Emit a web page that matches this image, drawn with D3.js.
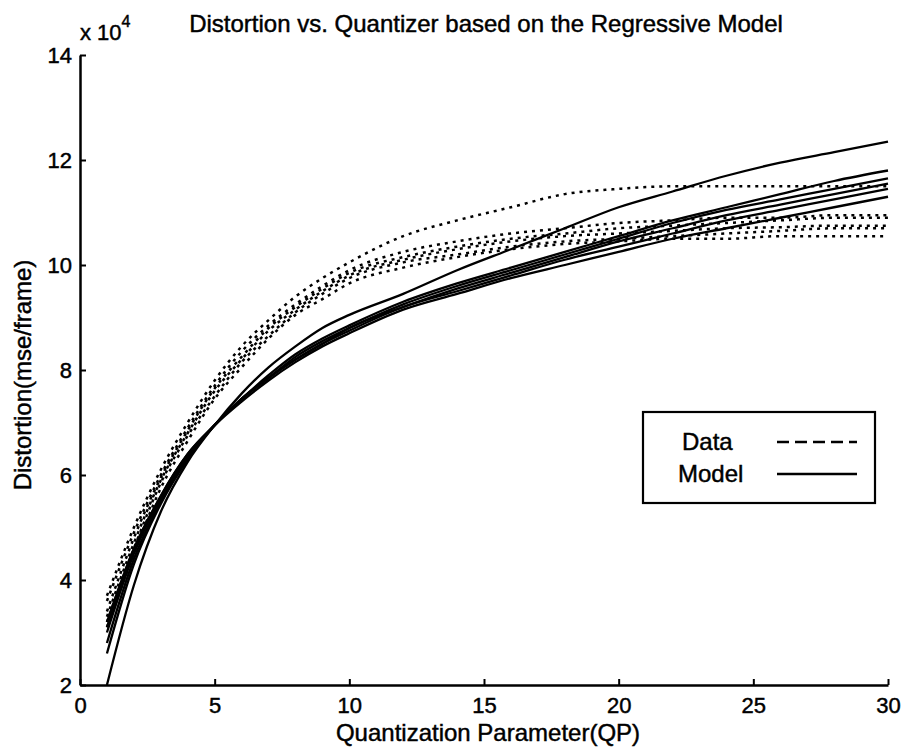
<!DOCTYPE html>
<html>
<head>
<meta charset="utf-8">
<script src="https://cdn.jsdelivr.net/npm/d3@7"></script>
<style>
  body { margin: 0; background: #fff; }
  text { font-family: "Liberation Sans", Arial, sans-serif; fill: #000; stroke: #000; stroke-width: 0.45px; }
</style>
</head>
<body>
<svg id="chart" width="901" height="749"></svg>
<script>
// QP sample points shared by every series
var qp = [1, 2, 3, 4, 5, 6, 7, 8, 9, 10, 12, 14, 16, 18, 20, 22, 24, 26, 28, 30];

// measured distortion (x 10^4), dotted
var data1 = [3.7, 5.0, 6.1, 7.0, 7.8, 8.45, 8.95, 9.4, 9.75, 10.05, 10.55, 10.85, 11.1, 11.35, 11.45, 11.5, 11.5, 11.5, 11.5, 11.5];
var data2 = [3.6, 4.9, 6.0, 6.9, 7.7, 8.35, 8.85, 9.25, 9.6, 9.9, 10.25, 10.45, 10.6, 10.7, 10.8, 10.85, 10.9, 10.9, 10.95, 10.95];
var data3 = [3.4, 4.8, 5.95, 6.85, 7.65, 8.25, 8.8, 9.2, 9.55, 9.85, 10.15, 10.35, 10.5, 10.6, 10.7, 10.75, 10.8, 10.85, 10.9, 10.9];
var data4 = [3.3, 4.7, 5.9, 6.8, 7.6, 8.2, 8.75, 9.15, 9.5, 9.8, 10.1, 10.3, 10.45, 10.55, 10.6, 10.65, 10.7, 10.72, 10.75, 10.75];
var data5 = [3.2, 4.6, 5.85, 6.75, 7.5, 8.15, 8.65, 9.1, 9.45, 9.75, 10.05, 10.2, 10.35, 10.45, 10.5, 10.55, 10.6, 10.65, 10.7, 10.7];
var data6 = [3.1, 4.5, 5.75, 6.65, 7.45, 8.05, 8.6, 9.05, 9.35, 9.65, 9.95, 10.15, 10.3, 10.4, 10.45, 10.5, 10.5, 10.55, 10.55, 10.55];

// regressive model (x 10^4), solid
var model1 = [2.0, 3.9, 5.3, 6.25, 6.95, 7.55, 8.05, 8.45, 8.8, 9.05, 9.45, 9.9, 10.3, 10.7, 11.1, 11.4, 11.7, 11.95, 12.15, 12.35];
var model2 = [2.6, 4.3, 5.45, 6.3, 6.95, 7.45, 7.9, 8.3, 8.6, 8.85, 9.3, 9.65, 9.95, 10.25, 10.55, 10.85, 11.1, 11.35, 11.6, 11.8];
var model3 = [2.8, 4.4, 5.5, 6.35, 6.95, 7.45, 7.85, 8.25, 8.55, 8.8, 9.25, 9.6, 9.9, 10.2, 10.5, 10.8, 11.05, 11.25, 11.45, 11.65];
var model4 = [3.0, 4.5, 5.55, 6.35, 6.95, 7.45, 7.85, 8.2, 8.5, 8.8, 9.2, 9.55, 9.85, 10.15, 10.45, 10.7, 10.95, 11.15, 11.35, 11.55];
var model5 = [3.1, 4.55, 5.6, 6.4, 6.95, 7.45, 7.85, 8.2, 8.5, 8.75, 9.2, 9.5, 9.8, 10.1, 10.35, 10.6, 10.85, 11.05, 11.25, 11.45];
var model6 = [3.2, 4.6, 5.6, 6.4, 6.95, 7.4, 7.8, 8.15, 8.45, 8.7, 9.15, 9.45, 9.75, 10.0, 10.25, 10.5, 10.7, 10.9, 11.1, 11.3];

var xTicks = [0, 5, 10, 15, 20, 25, 30];
var yTicks = [2, 4, 6, 8, 10, 12, 14];

var dataSeries = [data1, data2, data3, data4, data5, data6];
var modelSeries = [model1, model2, model3, model4, model5, model6];

var svg = d3.select("#chart");

var margin = {left: 80, top: 55, right: 13, bottom: 64};
var W = 901, H = 749;

var x = d3.scaleLinear().domain([0, 30]).range([margin.left, W - margin.right]);
var y = d3.scaleLinear().domain([2, 14]).range([H - margin.bottom, margin.top]);

var line = d3.line()
    .x((d, i) => x(qp[i]))
    .y(d => y(d))
    .curve(d3.curveMonotoneX);

var plot = svg.append("g");

plot.selectAll("path.model")
    .data(modelSeries)
    .enter().append("path")
      .attr("class", "model")
      .attr("d", line)
      .attr("fill", "none")
      .attr("stroke", "#000")
      .attr("stroke-width", 2.3);

plot.selectAll("path.data")
    .data(dataSeries)
    .enter().append("path")
      .attr("class", "data")
      .attr("d", line)
      .attr("fill", "none")
      .attr("stroke", "#000")
      .attr("stroke-width", 2.5)
      .attr("stroke-dasharray", "3,5");

// axes, ticks pointing inward, only left and bottom
var xAxis = d3.axisBottom(x).tickValues(xTicks).tickSizeInner(-6).tickSizeOuter(0).tickPadding(12);
var yAxis = d3.axisLeft(y).tickValues(yTicks).tickSizeInner(-6).tickSizeOuter(0).tickPadding(8);

var gx = svg.append("g")
    .attr("transform", `translate(0, ${y(2)})`)
    .call(xAxis);
var gy = svg.append("g")
    .attr("transform", `translate(${x(0)}, 0)`)
    .call(yAxis);

[gx, gy].forEach(g => {
    g.select(".domain").attr("stroke", "#000").attr("stroke-width", 2.5);
    g.selectAll(".tick line").attr("stroke", "#000").attr("stroke-width", 2);
    g.selectAll(".tick text")
        .attr("font-family", "Liberation Sans, Arial, sans-serif")
        .attr("font-size", 22)
        .attr("fill", "#000");
});

// exponent label
var expo = svg.append("text")
    .attr("x", 80)
    .attr("y", 40)
    .attr("font-size", 22);
expo.append("tspan").text("x 10");
expo.append("tspan").attr("dy", -13).attr("font-size", 16).text("4");

svg.append("text")
    .attr("x", 486)
    .attr("y", 32)
    .attr("text-anchor", "middle")
    .attr("font-size", 24)
    .text("Distortion vs. Quantizer based on the Regressive Model");

svg.append("text")
    .attr("x", 488)
    .attr("y", 741)
    .attr("text-anchor", "middle")
    .attr("font-size", 24)
    .text("Quantization Parameter(QP)");

svg.append("text")
    .attr("transform", "translate(31, 375) rotate(-90)")
    .attr("text-anchor", "middle")
    .attr("font-size", 24)
    .text("Distortion(mse/frame)");

// legend
var legend = svg.append("g").attr("transform", "translate(643, 412)");
legend.append("rect")
    .attr("width", 232)
    .attr("height", 91)
    .attr("fill", "#fff")
    .attr("stroke", "#000")
    .attr("stroke-width", 2.2);

var legendItems = [
    {label: "Data", dash: "12,6", y: 30, tx: 39},
    {label: "Model", dash: null, y: 62, tx: 35}
];
legendItems.forEach(item => {
    legend.append("text")
        .attr("x", item.tx)
        .attr("y", item.y + 8)
        .attr("font-size", 24)
        .text(item.label);
    legend.append("line")
        .attr("x1", 134).attr("x2", 214)
        .attr("y1", item.y).attr("y2", item.y)
        .attr("stroke", "#000")
        .attr("stroke-width", 2.3)
        .attr("stroke-dasharray", item.dash);
});
</script>
</body>
</html>
